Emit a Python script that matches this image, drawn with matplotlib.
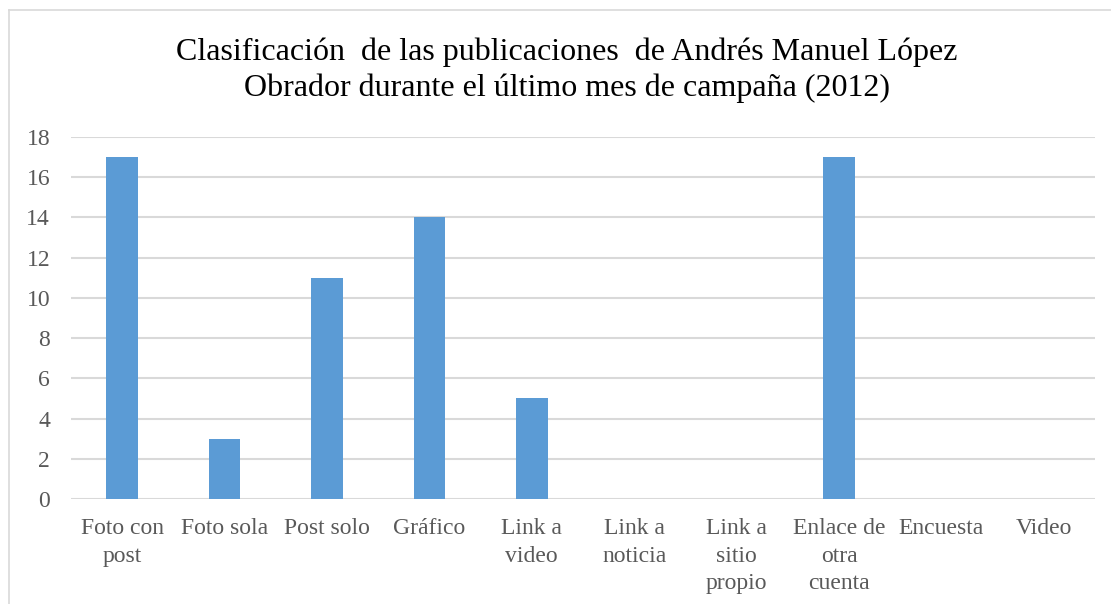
import matplotlib.pyplot as plt
from matplotlib.lines import Line2D

# Data
categorias = ["Foto con\npost", "Foto sola", "Post solo", "Gráfico", "Link a\nvideo",
              "Link a\nnoticia", "Link a\nsitio\npropio", "Enlace de\notra\ncuenta",
              "Encuesta", "Video"]
valores = [17, 3, 11, 14, 5, 0, 0, 17, 0, 0]
yticks = [0, 2, 4, 6, 8, 10, 12, 14, 16, 18]

plt.rcParams["font.family"] = ["Liberation Serif", "DejaVu Serif"]

fig = plt.figure(figsize=(11.11, 6.04), dpi=100)
ax = fig.add_axes([71 / 1111, 1 - 499 / 604, 1024 / 1111, 362 / 604])

x = range(len(categorias))
ax.bar(x, valores, width=0.31, color="#5B9BD5", zorder=3)

ax.set_xlim(-0.5, len(categorias) - 0.5)
ax.set_ylim(0, 18)
ax.set_yticks(yticks)
ax.set_xticks(list(x))
ax.set_xticklabels(categorias, linespacing=1.4)
ax.tick_params(axis="both", length=0, labelsize=17, colors="#595959")
ax.tick_params(axis="x", pad=14)
ax.tick_params(axis="y", pad=15)
ax.yaxis.grid(True, color="#d9d9d9", linewidth=1.5, zorder=0)
for s in ax.spines.values():
    s.set_visible(False)

# Title
fig.text(567 / 1111, 1 - 70 / 604,
         "Clasificación  de las publicaciones  de Andrés Manuel López\n"
         "Obrador durante el último mes de campaña (2012)",
         ha="center", va="center", fontsize=23, color="#000000", linespacing=1.3)

# Chart border (left and top visible)
fig.add_artist(Line2D([9 / 1111, 9 / 1111], [0, 1 - 10 / 604], transform=fig.transFigure,
                      color="#d9d9d9", linewidth=1.2))
fig.add_artist(Line2D([9 / 1111, 1], [1 - 10 / 604, 1 - 10 / 604], transform=fig.transFigure,
                      color="#d9d9d9", linewidth=1.2))

fig.savefig("out.png", dpi=100)
